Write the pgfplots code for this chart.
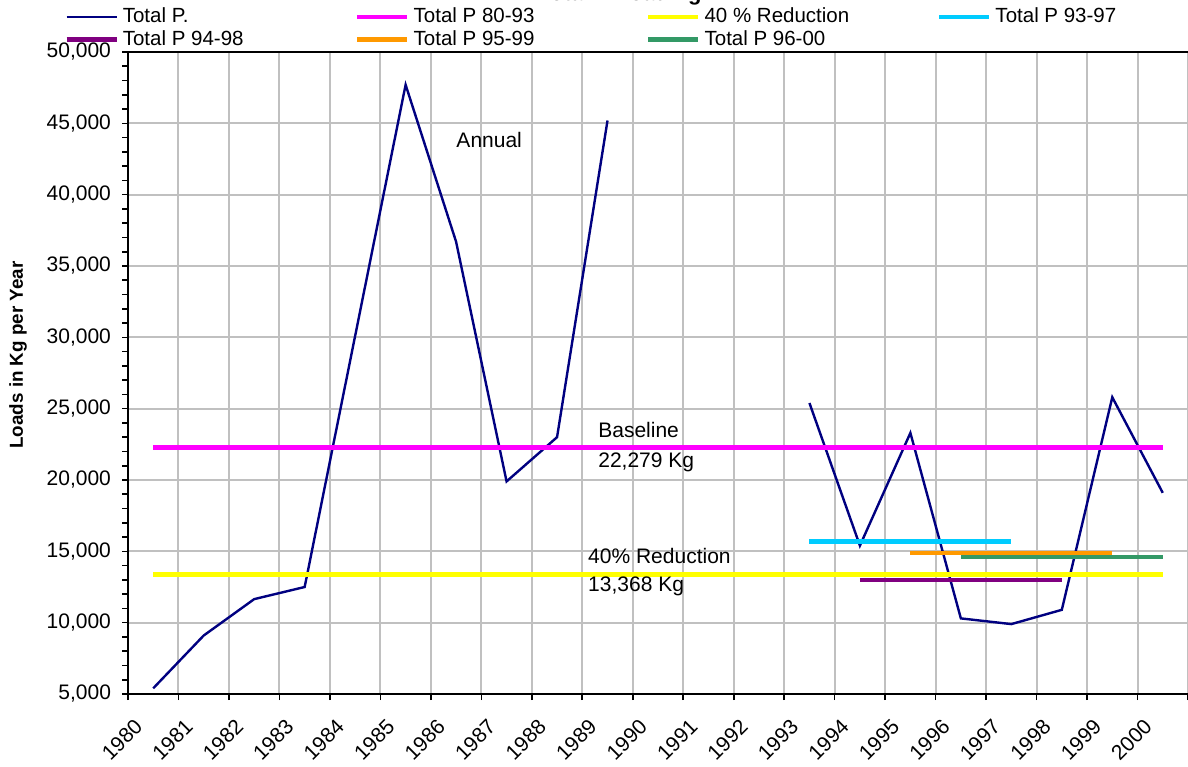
\documentclass[border=0pt]{standalone}
\usepackage{pgfplots}
\pgfplotsset{compat=1.18}
\usepackage{fontspec}
\setmainfont{Liberation Sans}

\definecolor{navyline}{RGB}{0,0,128}
\definecolor{basecol}{RGB}{255,0,255}
\definecolor{redcol}{RGB}{255,255,0}
\definecolor{pA}{RGB}{0,204,255}
\definecolor{pB}{RGB}{128,0,128}
\definecolor{pC}{RGB}{255,153,0}
\definecolor{pD}{RGB}{51,153,102}
\definecolor{gridgray}{RGB}{192,192,192}

\newcommand{\legtxt}[1]{\makebox[111.75pt][l]{#1}}

\begin{document}
\begin{tikzpicture}
\begin{axis}[
    name=ax, at={(0,0)}, anchor=south west,
    scale only axis, width=530pt, height=321pt,
    xmin=1979.5, xmax=2000.5, ymin=5000, ymax=50000,
    axis lines*=left,
    axis line style={line width=1pt},
    tick align=outside,
    major tick length=3pt, minor tick length=3pt,
    tick style={black, line width=0.8pt},
    xtick={1979.5,1980.5,...,2000.5},
    xticklabels={},
    xmajorgrids,
    extra x ticks={1980,...,2000},
    extra x tick labels={1980,1981,1982,1983,1984,1985,1986,1987,1988,1989,1990,
        1991,1992,1993,1994,1995,1996,1997,1998,1999,2000},
    extra x tick style={major tick length=0pt, xmajorgrids=false,
        xticklabel style={font=\fontsize{10.5}{12}\selectfont,
            xshift=-10pt, yshift=-7pt, rotate=45, anchor=north east}},
    ytick={5000,10000,...,50000},
    minor y tick num=4,
    ymajorgrids,
    grid style={gridgray, line width=1pt},
    scaled y ticks=false,
    /pgf/number format/assume math mode=true,
    /pgf/number format/1000 sep={,},
    yticklabel style={font=\fontsize{10.5}{12}\selectfont, xshift=-2pt},
    ylabel={\bfseries Loads in Kg per Year},
    every axis y label/.style={at={(axis description cs:-0.1038,0.528)},
        rotate=90, anchor=center, font=\fontsize{9.4}{11}\selectfont},
    legend columns=4,
    legend style={draw=none, fill=none, at={(axis description cs:0,1)},
        anchor=south west, xshift=-35pt, yshift=-2.5pt, row sep=-1.5pt,
        font=\fontsize{10.25}{11.5}\selectfont,
        /tikz/every even column/.append style={column sep=2.5pt}},
    legend image code/.code={\draw[#1] (0pt,0pt) -- (25pt,0pt);},
    unbounded coords=jump,
]

\addplot[navyline, line width=1.2pt] coordinates {
    (1980,5400) (1981,9100) (1982,11650) (1983,12500) (1984,30100)
    (1985,47700) (1986,36700) (1987,19900) (1988,23000) (1989,45200)
    (1990,nan) (1991,nan) (1992,nan)
    (1993,25400) (1994,15400) (1995,23300) (1996,10300) (1997,9900)
    (1998,10900) (1999,25800) (2000,19100)
};
\addlegendentry{\legtxt{Total P.}}

\addplot[basecol, line width=2.2pt] coordinates {(1980,22279) (2000,22279)};
\addlegendentry{\legtxt{Total P 80-93}}

\addplot[redcol, line width=2.2pt] coordinates {(1980,13368) (2000,13368)};
\addlegendentry{\legtxt{40 \% Reduction}}

\addplot[pA, line width=2.2pt] coordinates {(1993,15700) (1997,15700)};
\addlegendentry{\legtxt{Total P 93-97}}

\addplot[pB, line width=2.2pt] coordinates {(1994,13000) (1998,13000)};
\addlegendentry{\legtxt{Total P 94-98}}

\addplot[pC, line width=2.2pt] coordinates {(1995,14900) (1999,14900)};
\addlegendentry{\legtxt{Total P 95-99}}

\addplot[pD, line width=2.2pt] coordinates {(1996,14600) (2000,14600)};
\addlegendentry{\legtxt{Total P 96-00}}

\draw[black, line width=1pt] (rel axis cs:0,1) -- (rel axis cs:1,1);

\begin{scope}[font=\fontsize{10.5}{12}\selectfont]
\node[anchor=west, inner sep=0pt] at (axis cs:1986.0,43850) {Annual};
\node[anchor=west, inner sep=0pt] at (axis cs:1988.81,23510) {Baseline};
\node[anchor=west, inner sep=0pt] at (axis cs:1988.81,21270) {22,279 Kg};
\node[anchor=west, inner sep=0pt] at (axis cs:1988.61,14680) {40\% Reduction};
\node[anchor=west, inner sep=0pt] at (axis cs:1988.61,12570) {13,368 Kg};
\end{scope}
\end{axis}

\node[font=\bfseries\fontsize{11}{13}\selectfont, anchor=base east, inner sep=0pt]
    at (287pt,346.5pt) {Total P Loading};

\pgfresetboundingbox
\useasboundingbox (-64pt,-36pt) rectangle (530pt,347pt);
\end{tikzpicture}
\end{document}
